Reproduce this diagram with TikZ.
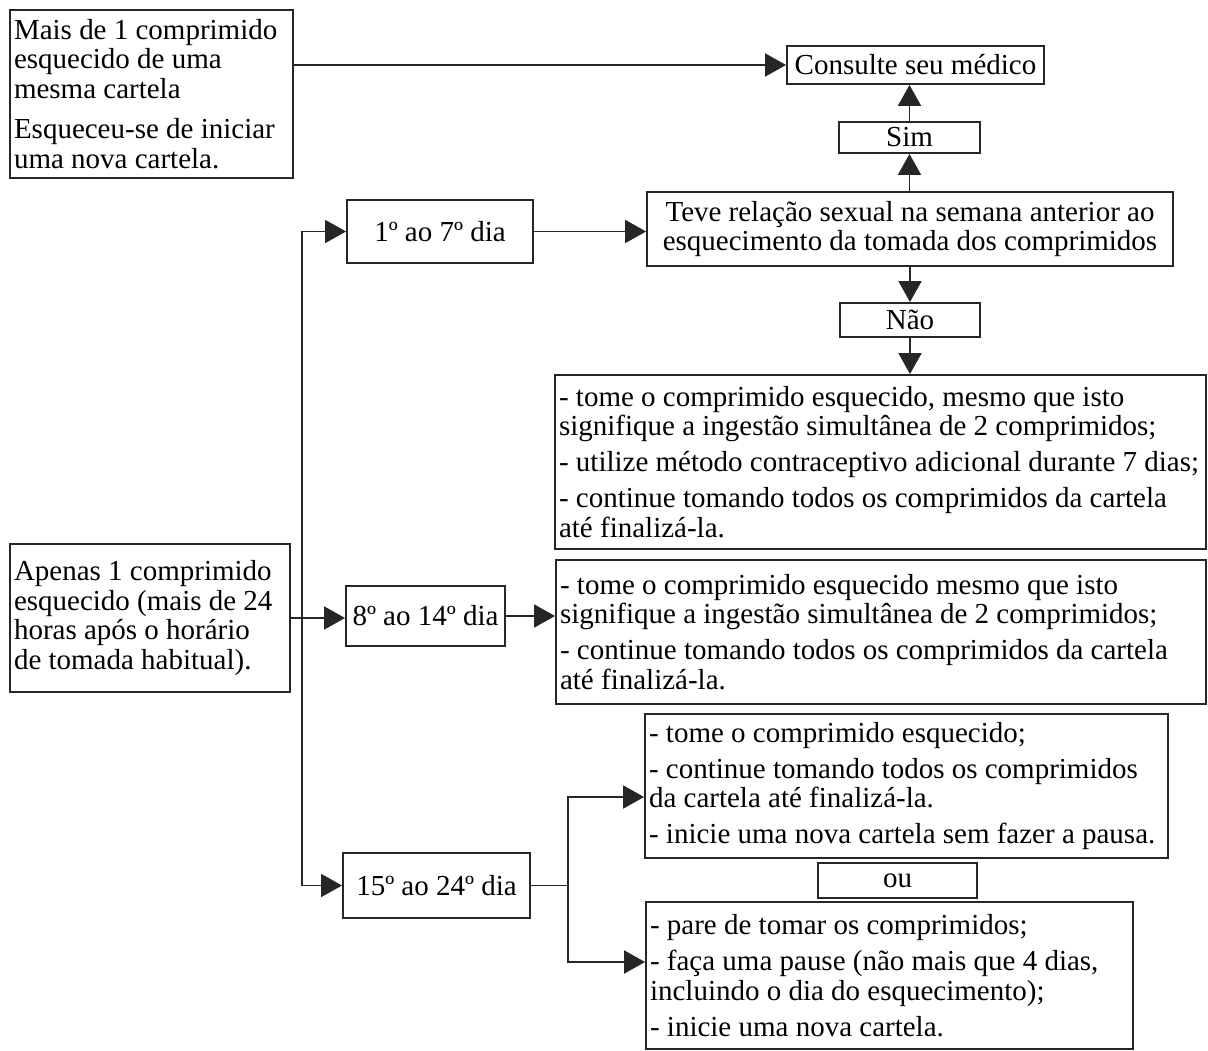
\documentclass[tikz,border=0pt]{standalone}
\usepackage{fontspec}
\setmainfont{Liberation Serif}
\usepackage{tikz}
\usetikzlibrary{arrows.meta}

\begin{document}
\begin{tikzpicture}
            [x=0.02cm, y=-0.02cm,
             caixa/.style = {draw=black!85, line width=1.1pt, align=flush left, inner xsep=0.08cm, inner ysep=3pt,
                             font=\fontsize{16.5pt}{17pt}\selectfont},
             seta/.style = {-{Triangle[length=0.42cm, width=0.46cm]}, line width=1.1pt, draw=black!85},
             linha/.style = {line width=1.1pt, draw=black!85}]

            \useasboundingbox (0,0) rectangle (1208,1051);

            \node[caixa, text width=5.5cm, minimum width=5.66cm, minimum height=3.36cm] (m) at (151.5,94)
                {Mais de 1 comprimido\\ esquecido de uma\\ mesma cartela\\[0.2cm]
                 Esqueceu-se de iniciar\\ uma nova cartela.};
            \node[caixa, align=center, minimum width=5.14cm, minimum height=0.76cm] (cs) at (915.5,65) {Consulte seu médico};
            \node[caixa, align=center, minimum width=2.82cm, minimum height=0.62cm] (s) at (909.5,137.5) {Sim};
            \node[caixa, align=center, minimum width=10.52cm, minimum height=1.48cm] (t) at (910,229)
                {Teve relação sexual na semana anterior ao\\ esquecimento da tomada dos comprimidos};
            \node[caixa, align=center, minimum width=2.8cm, minimum height=0.68cm] (n) at (910,320) {Não};
            \node[caixa, text width=12.86cm, minimum width=13.02cm, minimum height=3.48cm] (r1) at (880.5,462)
                {- tome o comprimido esquecido, mesmo que isto\\ signifique a ingestão simultânea de 2 comprimidos;\\[0.12cm]
                 - utilize método contraceptivo adicional durante 7 dias;\\[0.12cm]
                 - continue tomando todos os comprimidos da cartela\\ até finalizá-la.};

            \node[caixa, align=center, minimum width=3.72cm, minimum height=1.26cm] (d1) at (440,231.5) {1º ao 7º dia};
            \node[caixa, align=center, minimum width=3.18cm, minimum height=1.2cm] (d8) at (425.5,616) {8º ao 14º dia};
            \node[caixa, align=center, minimum width=3.74cm, minimum height=1.3cm] (d15) at (436.5,885.5) {15º ao 24º dia};

            \node[caixa, text width=5.44cm, minimum width=5.6cm, minimum height=2.96cm] (a) at (150,618)
                {Apenas 1 comprimido\\ esquecido (mais de 24\\ horas após o horário\\ de tomada habitual).};
            \node[caixa, text width=12.84cm, minimum width=13cm, minimum height=2.88cm] (r2) at (881,632)
                {- tome o comprimido esquecido mesmo que isto\\ signifique a ingestão simultânea de 2 comprimidos;\\[0.12cm]
                 - continue tomando todos os comprimidos da cartela\\ até finalizá-la.};
            \node[caixa, text width=10.3cm, minimum width=10.46cm, minimum height=2.88cm] (r3) at (906.5,786)
                {- tome o comprimido esquecido;\\[0.12cm]
                 - continue tomando todos os comprimidos\\ da cartela até finalizá-la.\\[0.12cm]
                 - inicie uma nova cartela sem fazer a pausa.};
            \node[caixa, align=center, minimum width=3.18cm, minimum height=0.7cm] (ou) at (897.5,880.5) {ou};
            \node[caixa, text width=9.58cm, minimum width=9.74cm, minimum height=2.94cm] (r4) at (889.5,975.5)
                {- pare de tomar os comprimidos;\\[0.12cm]
                 - faça uma pause (não mais que 4 dias,\\ incluindo o dia do esquecimento);\\[0.12cm]
                 - inicie uma nova cartela.};

            \coordinate (tr) at (302,618);
            \coordinate (br) at (568,885.5);

            \draw[seta] (m.east |- cs.west) -- (cs.west);
            \draw[seta] (s.north) -- (s.north |- cs.south);
            \draw[seta] (t.north -| s.north) -- (s.south);
            \draw[seta] (t.south -| n.south) -- (n.north);
            \draw[seta] (n.south) -- (n.south |- r1.north);
            \draw[seta] (d1.east) -- (d1.east -| t.west);
            \draw[seta] (a.east) -- (a.east -| d8.west);
            \draw[seta] (tr) |- (d1.west);
            \draw[seta] (tr) |- (d15.west);
            \draw[seta] (d8.east) -- (d8.east -| r2.west);
            \draw[linha] (d15.east) -- (br);
            \draw[seta] (br) |- ([yshift=-0.22cm]r3.west);
            \draw[seta] (br) |- ([yshift=0.27cm]r4.west);

        \end{tikzpicture}
\end{document}
